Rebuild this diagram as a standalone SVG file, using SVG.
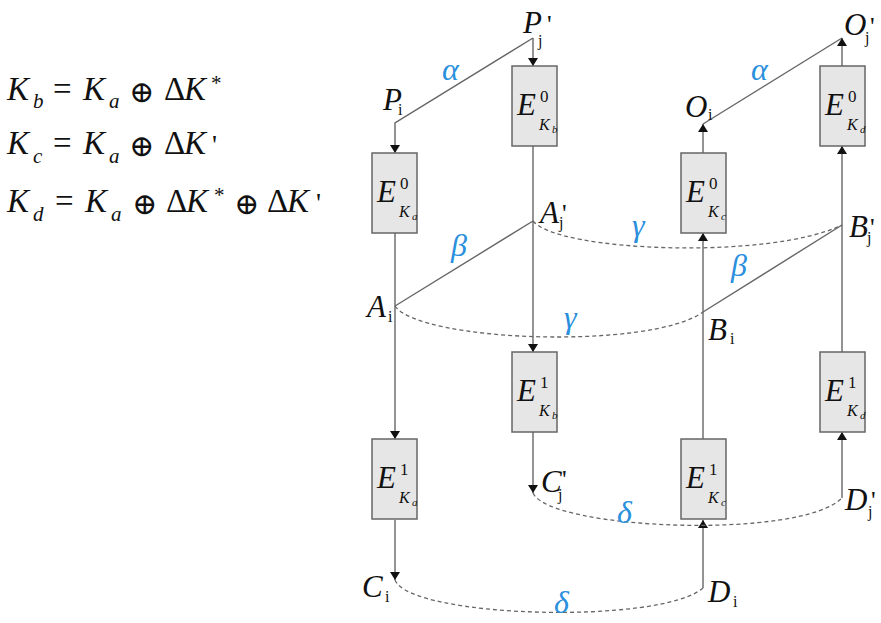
<svg xmlns="http://www.w3.org/2000/svg" width="881" height="623" viewBox="0 0 881 623">
<style>
text{font-family:"Liberation Serif","DejaVu Serif",serif}
.it{font-style:italic;fill:#111}
.rm{font-style:normal;fill:#111}
.op{fill:#111}
.L{font-size:31px}
.S{font-size:16px}
.F{font-size:33px}
.FS{font-size:21px}
.pr{font-size:26px;fill:#111}
.g{font-style:italic;font-size:32px;fill:#2a8fdc}
.box{fill:#e6e6e6;stroke:#666;stroke-width:1.5}
.ln{fill:none;stroke:#666;stroke-width:1.4}
.ds{fill:none;stroke:#666;stroke-width:1.3;stroke-dasharray:4 3}
.arr{marker-end:url(#ah)}
.sup{font-size:17px}
.kk{font-size:16px}
.ks{font-size:11px}
</style>
<defs>
<marker id="ah" markerWidth="8" markerHeight="10" refX="8" refY="5" orient="auto" markerUnits="userSpaceOnUse">
<path d="M0,0 L8,5 L0,10 Z" fill="#111"/>
</marker>
</defs>
<rect width="881" height="623" fill="#fff"/>

<g id="formulas">
<text y="100"><tspan class="it F" x="7">K</tspan><tspan class="it FS" x="33" y="108">b</tspan><tspan class="rm F" x="53" y="100">=</tspan><tspan class="it F" x="83">K</tspan><tspan class="it FS" x="109" y="108">a</tspan><tspan class="op" style="font-size:30px" x="129" y="102">⊕</tspan><tspan class="rm F" x="164" y="100">Δ</tspan><tspan class="it F" x="184">K</tspan><tspan class="rm FS" x="211" y="90">*</tspan></text>
<text y="154"><tspan class="it F" x="7">K</tspan><tspan class="it FS" x="33" y="163">c</tspan><tspan class="rm F" x="53" y="154">=</tspan><tspan class="it F" x="83">K</tspan><tspan class="it FS" x="109" y="163">a</tspan><tspan class="op" style="font-size:30px" x="129" y="156">⊕</tspan><tspan class="rm F" x="164" y="154">Δ</tspan><tspan class="it F" x="184">K</tspan><tspan class="rm" style="font-size:28px" x="212" y="154">'</tspan></text>
<text y="212"><tspan class="it F" x="7">K</tspan><tspan class="it FS" x="33" y="221">d</tspan><tspan class="rm F" x="55" y="212">=</tspan><tspan class="it F" x="85">K</tspan><tspan class="it FS" x="111" y="221">a</tspan><tspan class="op" style="font-size:30px" x="132" y="214">⊕</tspan><tspan class="rm F" x="166" y="212">Δ</tspan><tspan class="it F" x="186">K</tspan><tspan class="rm FS" x="214" y="202">*</tspan><tspan class="op" style="font-size:30px" x="234" y="214">⊕</tspan><tspan class="rm F" x="267" y="212">Δ</tspan><tspan class="it F" x="287">K</tspan><tspan class="rm" style="font-size:28px" x="316" y="212">'</tspan></text>
</g>

<g id="connectors">
<path class="ln arr" d="M533,38 L533,66"/>
<path class="ln arr" d="M533,38 L395,123 L395,153"/>
<path class="ln arr" d="M395,233 L395,439"/>
<path class="ln" d="M395,306 L533,221"/>
<path class="ln arr" d="M395,520 L395,580"/>
<path class="ln arr" d="M533,146 L533,352"/>
<path class="ln arr" d="M533,432 L533,493"/>
<path class="ln arr" d="M703,588 L703,520"/>
<path class="ln arr" d="M703,439 L703,233"/>
<path class="ln arr" d="M703,153 L703,124"/>
<path class="ln" d="M703,124 L842,38"/>
<path class="ln arr" d="M842,66 L842,38"/>
<path class="ln arr" d="M842,498 L842,432"/>
<path class="ln arr" d="M842,352 L842,146"/>
<path class="ln" d="M703,312 L842,225"/>
<path class="ds" d="M533,221 C558,252 770,260 842,225"/>
<path class="ds" d="M395,306 C420,342 650,350 703,312"/>
<path class="ds" d="M533,493 C550,530 800,540 842,498"/>
<path class="ds" d="M395,580 C410,618 660,625 703,588"/>
</g>

<g id="greek">
<text class="g" x="442" y="80">α</text>
<text class="g" x="751" y="80">α</text>
<text class="g" x="451" y="256">β</text>
<text class="g" x="731" y="276">β</text>
<text class="g" x="632" y="236">γ</text>
<text class="g" x="564" y="328">γ</text>
<text class="g" x="617" y="523">δ</text>
<text class="g" x="554" y="613">δ</text>
</g>

<g id="Pj"><text class="it L" x="523" y="33">P</text><text class="pr" x="547" y="33">'</text><text class="rm S" x="538" y="46">j</text></g>
<g id="Pi"><text class="it L" x="383" y="110">P</text><text class="rm S" x="398" y="115">i</text></g>
<g id="Oi"><text class="it L" x="685" y="117">O</text><text class="rm S" x="708" y="120">i</text></g>
<g id="Oj"><text class="it L" x="844" y="35">O</text><text class="pr" x="870" y="35">'</text><text class="rm S" x="865" y="43">j</text></g>
<g id="Aj"><text class="it L" x="540" y="223">A</text><text class="pr" x="562" y="222">'</text><text class="rm S" x="559" y="228">j</text></g>
<g id="Ai"><text class="it L" x="367" y="317">A</text><text class="rm S" x="388" y="322">i</text></g>
<g id="Bi"><text class="it L" x="708" y="340">B</text><text class="rm S" x="730" y="344">i</text></g>
<g id="Bj"><text class="it L" x="849" y="237">B</text><text class="pr" x="870" y="236">'</text><text class="rm S" x="867" y="243">j</text></g>
<g id="Cj"><text class="it L" x="541" y="492">C</text><text class="pr" x="562" y="488">'</text><text class="rm S" x="558" y="500">j</text></g>
<g id="Ci"><text class="it L" x="362" y="597">C</text><text class="rm S" x="385" y="602">i</text></g>
<g id="Di"><text class="it L" x="708" y="602">D</text><text class="rm S" x="733" y="607">i</text></g>
<g id="Dj"><text class="it L" x="845" y="510">D</text><text class="pr" x="871" y="509">'</text><text class="rm S" x="868" y="517">j</text></g>

<g id="E0a" transform="translate(372,153)"><rect class="box" width="45" height="80"/><text class="it L" x="5" y="49">E</text><text class="rm sup" x="28" y="36">0</text><text class="it kk" x="27" y="64">K</text><text class="it ks" x="40" y="67">a</text></g>
<g id="E0b" transform="translate(512,66)"><rect class="box" width="45" height="80"/><text class="it L" x="5" y="49">E</text><text class="rm sup" x="28" y="36">0</text><text class="it kk" x="27" y="64">K</text><text class="it ks" x="40" y="67">b</text></g>
<g id="E0c" transform="translate(681,153)"><rect class="box" width="45" height="80"/><text class="it L" x="5" y="49">E</text><text class="rm sup" x="28" y="36">0</text><text class="it kk" x="27" y="64">K</text><text class="it ks" x="40" y="67">c</text></g>
<g id="E0d" transform="translate(820,66)"><rect class="box" width="45" height="80"/><text class="it L" x="5" y="49">E</text><text class="rm sup" x="28" y="36">0</text><text class="it kk" x="27" y="64">K</text><text class="it ks" x="40" y="67">d</text></g>
<g id="E1b" transform="translate(512,352)"><rect class="box" width="45" height="80"/><text class="it L" x="5" y="49">E</text><text class="rm sup" x="28" y="36">1</text><text class="it kk" x="27" y="64">K</text><text class="it ks" x="40" y="67">b</text></g>
<g id="E1a" transform="translate(372,439)"><rect class="box" width="45" height="80"/><text class="it L" x="5" y="49">E</text><text class="rm sup" x="28" y="36">1</text><text class="it kk" x="27" y="64">K</text><text class="it ks" x="40" y="67">a</text></g>
<g id="E1c" transform="translate(681,439)"><rect class="box" width="45" height="80"/><text class="it L" x="5" y="49">E</text><text class="rm sup" x="28" y="36">1</text><text class="it kk" x="27" y="64">K</text><text class="it ks" x="40" y="67">c</text></g>
<g id="E1d" transform="translate(820,352)"><rect class="box" width="45" height="80"/><text class="it L" x="5" y="49">E</text><text class="rm sup" x="28" y="36">1</text><text class="it kk" x="27" y="64">K</text><text class="it ks" x="40" y="67">d</text></g>
</svg>
